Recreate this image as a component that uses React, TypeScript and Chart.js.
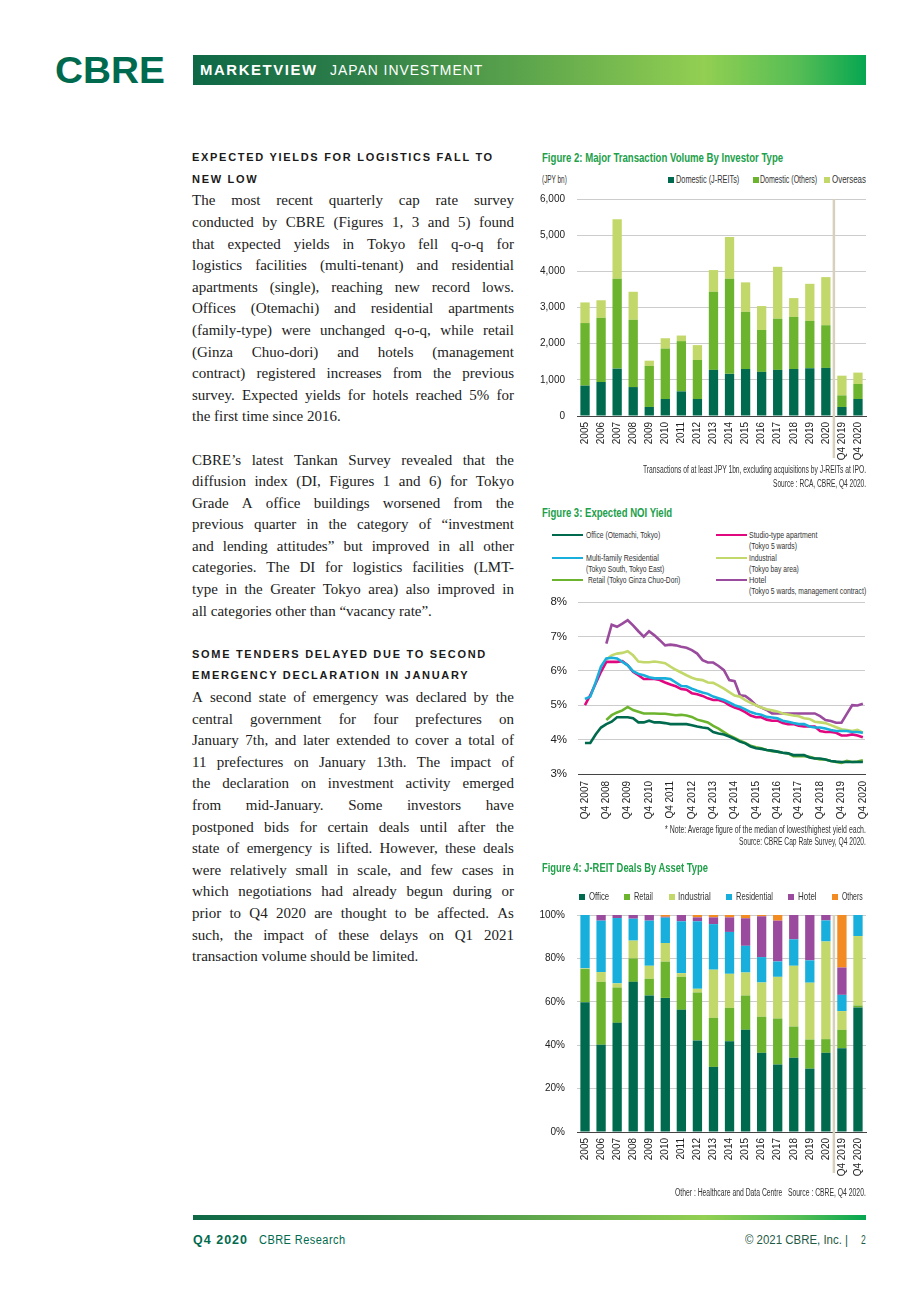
import React, { useEffect, useLayoutEffect, useRef, useState } from 'react';
import { Chart, registerables } from 'chart.js';

Chart.register(...registerables);

const SANS = "'Liberation Sans', Arial, sans-serif";
const SERIF = "'Liberation Serif', 'Times New Roman', serif";
Chart.defaults.font.family = SANS;
Chart.defaults.color = '#222';

// ---------- Figure 2 data: Major transaction volume by investor type (JPY bn)
const volCategories = ['2005', '2006', '2007', '2008', '2009', '2010', '2011', '2012', '2013', '2014', '2015', '2016', '2017', '2018', '2019', '2020', 'Q4 2019', 'Q4 2020'];
const volJreit = [840, 940, 1310, 800, 250, 470, 680, 470, 1275, 1165, 1300, 1220, 1275, 1300, 1320, 1330, 250, 470];
const volOthers = [1730, 1775, 2485, 1860, 1135, 1395, 1390, 1080, 2160, 2630, 1580, 1160, 1415, 1440, 1310, 1180, 320, 415];
const volOverseas = [570, 485, 1645, 775, 145, 285, 155, 410, 600, 1155, 815, 660, 1435, 520, 1025, 1330, 545, 315];

// ---------- Figure 3 data: Expected NOI yield (%), quarterly Q4 2007 - Q4 2020
const yieldQuarters = Array.from({ length: 53 }, (_, i) => `Q${((i + 3) % 4) + 1} ${2007 + Math.floor((i + 3) / 4)}`);
const yieldOffice = [3.90, 3.90, 4.15, 4.35, 4.45, 4.52, 4.65, 4.65, 4.65, 4.62, 4.50, 4.50, 4.55, 4.50, 4.50, 4.48, 4.45, 4.45, 4.45, 4.45, 4.42, 4.38, 4.35, 4.33, 4.22, 4.18, 4.15, 4.09, 4.02, 3.94, 3.89, 3.80, 3.75, 3.73, 3.70, 3.68, 3.65, 3.62, 3.60, 3.55, 3.55, 3.55, 3.48, 3.45, 3.45, 3.42, 3.38, 3.36, 3.35, 3.35, 3.35, 3.35, 3.35];
const yieldMultiFamily = [5.18, 5.25, 5.66, 6.12, 6.36, 6.38, 6.36, 6.26, 6.16, 5.99, 5.91, 5.87, 5.81, 5.78, 5.78, 5.78, 5.76, 5.66, 5.56, 5.55, 5.48, 5.42, 5.37, 5.33, 5.25, 5.20, 5.15, 5.08, 5.00, 4.95, 4.88, 4.80, 4.75, 4.72, 4.66, 4.64, 4.62, 4.55, 4.52, 4.48, 4.45, 4.45, 4.38, 4.35, 4.35, 4.32, 4.28, 4.25, 4.25, 4.25, 4.22, 4.22, 4.20];
const yieldRetail = [null, null, null, null, 4.57, 4.71, 4.79, 4.85, 4.95, 4.86, 4.81, 4.76, 4.76, 4.76, 4.75, 4.75, 4.73, 4.71, 4.72, 4.70, 4.66, 4.58, 4.54, 4.50, 4.40, 4.32, 4.22, 4.12, 4.05, 3.97, 3.90, 3.82, 3.78, 3.75, 3.70, 3.66, 3.65, 3.62, 3.60, 3.52, 3.52, 3.52, 3.50, 3.46, 3.42, 3.42, 3.38, 3.35, 3.32, 3.38, 3.35, 3.36, 3.40];
const yieldStudio = [5.00, 5.29, 5.63, 5.97, 6.26, 6.26, 6.26, 6.28, 6.16, 5.97, 5.87, 5.76, 5.76, 5.76, 5.73, 5.66, 5.60, 5.55, 5.47, 5.45, 5.35, 5.32, 5.27, 5.20, 5.15, 5.15, 5.10, 5.00, 4.93, 4.88, 4.80, 4.70, 4.65, 4.65, 4.58, 4.55, 4.55, 4.48, 4.45, 4.45, 4.40, 4.38, 4.38, 4.38, 4.25, 4.22, 4.22, 4.20, 4.12, 4.12, 4.15, 4.12, 4.07];
const yieldIndustrial = [null, null, null, null, 6.33, 6.45, 6.50, 6.52, 6.57, 6.45, 6.27, 6.25, 6.25, 6.27, 6.25, 6.22, 6.12, 6.03, 5.95, 5.87, 5.80, 5.75, 5.73, 5.66, 5.65, 5.57, 5.48, 5.38, 5.28, 5.25, 5.15, 5.07, 5.00, 4.93, 4.88, 4.85, 4.82, 4.76, 4.73, 4.70, 4.68, 4.62, 4.60, 4.52, 4.50, 4.48, 4.42, 4.36, 4.30, 4.28, 4.25, 4.28, 4.20];
const yieldHotel = [null, null, null, null, 6.79, 7.34, 7.28, 7.37, 7.47, 7.32, 7.15, 6.99, 7.15, 7.03, 6.89, 6.74, 6.76, 6.74, 6.70, 6.67, 6.60, 6.50, 6.31, 6.24, 6.24, 6.14, 6.02, 5.73, 5.70, 5.29, 5.27, 5.15, 5.00, 4.93, 4.86, 4.76, 4.76, 4.76, 4.76, 4.76, 4.76, 4.76, 4.76, 4.76, 4.68, 4.57, 4.54, 4.49, 4.49, 4.75, 5.00, 4.99, 5.04];

// ---------- Figure 4 data: J-REIT deals by asset type (%)
const dealOffice = [59.8, 40.2, 50.3, 69.2, 62.9, 61.8, 56.3, 42.2, 30.0, 41.8, 47.1, 36.5, 31.1, 34.2, 29.2, 36.5, 38.6, 57.4];
const dealRetail = [15.3, 29.0, 16.3, 10.8, 7.7, 16.7, 15.2, 22.1, 22.6, 15.4, 15.8, 16.6, 21.2, 14.4, 13.4, 6.3, 8.5, 0.9];
const dealIndustrial = [0.3, 4.5, 1.9, 8.2, 6.0, 8.6, 1.7, 1.7, 22.2, 15.7, 10.6, 15.8, 19.2, 28.0, 26.2, 45.0, 8.6, 32.0];
const dealResidential = [24.6, 23.7, 30.1, 10.1, 20.8, 11.7, 23.9, 31.1, 21.0, 19.3, 12.3, 11.7, 7.1, 12.2, 10.3, 9.7, 7.5, 9.7];
const dealHotel = [0, 2.6, 1.4, 1.7, 2.6, 0.4, 2.9, 1.8, 3.1, 6.7, 12.7, 18.8, 18.8, 11.2, 20.9, 2.5, 12.6, 0];
const dealOthers = [0, 0, 0, 0, 0, 0.8, 0, 1.1, 1.1, 1.1, 1.5, 0.6, 2.6, 0, 0, 0, 24.2, 0];

const C = {
  dark: '#006a4e',
  mid: '#6cb42e',
  light: '#c2d86a',
  cyan: '#18afdc',
  magenta: '#e1077f',
  purple: '#9a4b9d',
  orange: '#f28b22',
  grid: '#cccccc',
  sep: '#d7d0bd',
  title: '#21a04a',
  text: '#333333',
};

const separatorPlugin = {
  id: 'separator',
  afterDraw(chart: any, _args: any, opts: any) {
    const xs = chart.scales.x;
    const px = (xs.getPixelForValue(opts.index) + xs.getPixelForValue(opts.index + 1)) / 2;
    const ctx = chart.ctx;
    ctx.save();
    ctx.strokeStyle = opts.color;
    ctx.lineWidth = opts.width;
    ctx.beginPath();
    ctx.moveTo(px, chart.chartArea.top);
    ctx.lineTo(px, chart.chartArea.bottom + opts.extend);
    ctx.stroke();
    ctx.restore();
  },
};

function ChartBox({ left, top, width, height, make }: any) {
  const ref = useRef<HTMLCanvasElement>(null);
  useEffect(() => {
    const chart = new Chart(ref.current as HTMLCanvasElement, make());
    return () => chart.destroy();
  }, []);
  return <canvas ref={ref} width={width} height={height} style={{ position: 'absolute', left, top, width, height }} />;
}

function FitText({ text, x, y, w, align = 'left', size = 10, weight = 400, color = C.text, family = SANS, ls = 0 }: any) {
  const ref = useRef<HTMLSpanElement>(null);
  const [k, setK] = useState(1);
  useLayoutEffect(() => {
    if (ref.current) {
      const nw = ref.current.offsetWidth;
      if (nw > 0) setK(w / nw);
    }
  }, [text, w]);
  const lh = size * 1.2;
  return (
    <span
      ref={ref}
      style={{
        position: 'absolute',
        left: align === 'left' ? x : x - w,
        top: y - lh / 2,
        whiteSpace: 'pre',
        fontSize: size,
        fontWeight: weight,
        fontFamily: family,
        letterSpacing: ls,
        color,
        lineHeight: `${lh}px`,
        transform: `scaleX(${k})`,
        transformOrigin: 'left center',
      }}
    >
      {text}
    </span>
  );
}

function Square({ x, y, color, s = 6 }: any) {
  return <div style={{ position: 'absolute', left: x, top: y - s / 2, width: s, height: s, background: color }} />;
}

function Swatch({ x, y, color }: any) {
  return <div style={{ position: 'absolute', left: x, top: y - 1.3, width: 31, height: 2.6, background: color }} />;
}

const tickFont = { size: 10 };

const fitX = (h: number) => (s: any) => {
  s.height = h;
  s.paddingLeft = 0;
  s.paddingRight = 0;
};
const fitY = (w: number) => (s: any) => {
  s.width = w;
  s.paddingTop = 0;
  s.paddingBottom = 0;
};

function makeVolume() {
  return {
    type: 'bar',
    data: {
      labels: volCategories,
      datasets: [
        { label: 'Domestic (J-REITs)', data: volJreit, backgroundColor: C.dark },
        { label: 'Domestic (Others)', data: volOthers, backgroundColor: C.mid },
        { label: 'Overseas', data: volOverseas, backgroundColor: C.light },
      ],
    },
    options: {
      responsive: false,
      animation: false,
      devicePixelRatio: 1,
      layout: { padding: { left: 0, right: 4, top: 9, bottom: 0 } },
      datasets: { bar: { barPercentage: 0.58, categoryPercentage: 1 } },
      plugins: {
        legend: { display: false },
        tooltip: { enabled: false },
        separator: { index: 15, extend: 42, color: C.sep, width: 2.5 },
      },
      scales: {
        x: {
          stacked: true,
          grid: { display: false, drawTicks: false },
          border: { display: true, color: '#444', width: 1 },
          ticks: { autoSkip: false, minRotation: 90, maxRotation: 90, padding: 6, font: tickFont, color: '#222' },
          afterFit: fitX(49),
        },
        y: {
          stacked: true,
          min: 0,
          max: 6000,
          ticks: { stepSize: 1000, padding: 12, font: tickFont, color: '#222', callback: (v: any) => Number(v).toLocaleString('en-US') },
          grid: { color: C.grid, drawTicks: false },
          border: { display: false },
          afterFit: fitY(57),
        },
      },
    },
    plugins: [separatorPlugin],
  };
}

function toXY(arr: (number | null)[]) {
  return arr.map((v, i) => ({ x: i, y: v }));
}

function makeYield() {
  const line = (label: string, data: (number | null)[], color: string) => ({
    label,
    data: toXY(data),
    borderColor: color,
    backgroundColor: color,
    borderWidth: 2.6,
    pointRadius: 0,
    fill: false,
    tension: 0,
  });
  return {
    type: 'line',
    data: {
      datasets: [
        line('Office (Otemachi, Tokyo)', yieldOffice, C.dark),
        line('Multi-family Residential', yieldMultiFamily, C.cyan),
        line('Retail (Tokyo Ginza Chuo-Dori)', yieldRetail, C.mid),
        line('Studio-type apartment', yieldStudio, C.magenta),
        line('Industrial', yieldIndustrial, C.light),
        line('Hotel', yieldHotel, C.purple),
      ],
    },
    options: {
      responsive: false,
      animation: false,
      devicePixelRatio: 1,
      layout: { padding: { left: 0, right: 5, top: 7, bottom: 0 } },
      plugins: { legend: { display: false }, tooltip: { enabled: false } },
      scales: {
        x: {
          type: 'linear',
          min: -1.3,
          max: 52.4,
          grid: { display: false, drawTicks: false },
          border: { display: true, color: '#444', width: 1 },
          afterBuildTicks: (s: any) => {
            s.ticks = yieldQuarters.map((l, i) => ({ value: i, l })).filter((t) => t.l.startsWith('Q4')).map((t) => ({ value: t.value }));
          },
          ticks: {
            autoSkip: false,
            minRotation: 90,
            maxRotation: 90,
            padding: 7,
            font: tickFont,
            color: '#222',
            callback: (v: any) => yieldQuarters[v] ?? '',
          },
          afterFit: fitX(51),
        },
        y: {
          min: 3,
          max: 8,
          ticks: { stepSize: 1, padding: 11, font: { size: 11.5 }, color: '#222', callback: (v: any) => `${v}%` },
          grid: { color: C.grid, drawTicks: false },
          border: { display: false },
          afterFit: fitY(58),
        },
      },
    },
  };
}

function makeDeals() {
  return {
    type: 'bar',
    data: {
      labels: volCategories,
      datasets: [
        { label: 'Office', data: dealOffice, backgroundColor: C.dark },
        { label: 'Retail', data: dealRetail, backgroundColor: C.mid },
        { label: 'Industrial', data: dealIndustrial, backgroundColor: C.light },
        { label: 'Residential', data: dealResidential, backgroundColor: C.cyan },
        { label: 'Hotel', data: dealHotel, backgroundColor: C.purple },
        { label: 'Others', data: dealOthers, backgroundColor: C.orange },
      ],
    },
    options: {
      responsive: false,
      animation: false,
      devicePixelRatio: 1,
      layout: { padding: { left: 0, right: 4, top: 10, bottom: 0 } },
      datasets: { bar: { barPercentage: 0.58, categoryPercentage: 1 } },
      plugins: {
        legend: { display: false },
        tooltip: { enabled: false },
        separator: { index: 15, extend: 41, color: C.sep, width: 2.5 },
      },
      scales: {
        x: {
          stacked: true,
          grid: { display: false, drawTicks: false },
          border: { display: true, color: '#444', width: 1 },
          ticks: { autoSkip: false, minRotation: 90, maxRotation: 90, padding: 6, font: tickFont, color: '#222' },
          afterFit: fitX(48),
        },
        y: {
          stacked: true,
          min: 0,
          max: 100,
          ticks: { stepSize: 20, padding: 12, font: tickFont, color: '#222', callback: (v: any) => `${v}%` },
          grid: { color: C.grid, drawTicks: false },
          border: { display: false },
          afterFit: fitY(57),
        },
      },
    },
    plugins: [separatorPlugin],
  };
}

// ---------- Left text column
const heading1 = ['EXPECTED YIELDS FOR LOGISTICS FALL TO', 'NEW LOW'];
const para1 = [
  'The most recent quarterly cap rate survey',
  'conducted by CBRE (Figures 1, 3 and 5) found',
  'that expected yields in Tokyo fell q-o-q for',
  'logistics facilities (multi-tenant) and residential',
  'apartments (single), reaching new record lows.',
  'Offices (Otemachi) and residential apartments',
  '(family-type) were unchanged q-o-q, while retail',
  '(Ginza Chuo-dori) and hotels (management',
  'contract) registered increases from the previous',
  'survey. Expected yields for hotels reached 5% for',
  'the first time since 2016.',
];
const para2 = [
  'CBRE’s latest Tankan Survey revealed that the',
  'diffusion index (DI, Figures 1 and 6) for Tokyo',
  'Grade A office buildings worsened from the',
  'previous quarter in the category of “investment',
  'and lending attitudes” but improved in all other',
  'categories. The DI for logistics facilities (LMT-',
  'type in the Greater Tokyo area) also improved in',
  'all categories other than “vacancy rate”.',
];
const heading2 = ['SOME TENDERS DELAYED DUE TO SECOND', 'EMERGENCY DECLARATION IN JANUARY'];
const para3 = [
  'A second state of emergency was declared by the',
  'central government for four prefectures on',
  'January 7th, and later extended to cover a total of',
  '11 prefectures on January 13th. The impact of',
  'the declaration on investment activity emerged',
  'from mid-January. Some investors have',
  'postponed bids for certain deals until after the',
  'state of emergency is lifted. However, these deals',
  'were relatively small in scale, and few cases in',
  'which negotiations had already begun during or',
  'prior to Q4 2020 are thought to be affected.  As',
  'such, the impact of these delays on Q1 2021',
  'transaction volume should be limited.',
];

function TextColumn() {
  const rows: { t: string; k: string }[] = [];
  const addPara = (lines: string[]) => lines.forEach((t, i) => rows.push({ t, k: i === lines.length - 1 ? 'l' : 'j' }));
  heading1.forEach((t) => rows.push({ t, k: 'h' }));
  addPara(para1);
  rows.push({ t: '', k: 'b' });
  addPara(para2);
  rows.push({ t: '', k: 'b' });
  heading2.forEach((t) => rows.push({ t, k: 'h' }));
  addPara(para3);
  const LH = 21.6;
  return (
    <div style={{ position: 'absolute', left: 192, top: 147.2, width: 322 }}>
      {rows.map((r, i) => {
        if (r.k === 'h') {
          return (
            <div key={i} style={{ height: LH, lineHeight: `${LH}px`, whiteSpace: 'nowrap', fontFamily: SANS, fontWeight: 700, fontSize: 11, letterSpacing: '1.7px', color: '#1a1a1a' }}>
              {r.t}
            </div>
          );
        }
        if (r.k === 'j') {
          return (
            <div key={i} style={{ height: LH, lineHeight: `${LH}px`, display: 'flex', justifyContent: 'space-between', whiteSpace: 'nowrap', fontFamily: SERIF, fontSize: 15, color: '#222' }}>
              {r.t.split(/\s+/).map((w, j) => <span key={j}>{w}</span>)}
            </div>
          );
        }
        return (
          <div key={i} style={{ height: LH, lineHeight: `${LH}px`, whiteSpace: 'nowrap', fontFamily: SERIF, fontSize: 15, color: '#222' }}>
            {r.t}
          </div>
        );
      })}
    </div>
  );
}

const GRADIENT = 'linear-gradient(90deg, #0e6846 0%, #2f7f49 25%, #5ea64c 50%, #92cf52 76%, #55bd55 90%, #06a651 100%)';

export default function App() {
  return (
    <div style={{ position: 'absolute', left: 0, top: 0, width: 920, height: 1302, background: '#fff', overflow: 'hidden' }}>
      {/* Header */}
      <FitText text="CBRE" x={55} y={71} w={110} size={36} weight={700} color={C.dark} />
      <div style={{ position: 'absolute', left: 193, top: 55, width: 673, height: 30, background: GRADIENT }} />
      <FitText text="MARKETVIEW" x={200} y={70.5} w={118} size={14} weight={700} color="#fff" ls={1.5} />
      <FitText text="JAPAN INVESTMENT" x={330} y={70.5} w={153} size={14} weight={400} color="#fff" ls={1} />

      <TextColumn />

      {/* Figure 2 */}
      <FitText text="Figure 2: Major Transaction Volume By Investor Type" x={542} y={158} w={241} size={12.5} weight={700} color={C.title} />
      <FitText text="(JPY bn)" x={542} y={179.5} w={25} size={10} />
      <Square x={668} y={179.5} color={C.dark} />
      <FitText text="Domestic (J-REITs)" x={676} y={179.5} w={63} size={10.5} />
      <Square x={753} y={179.5} color={C.mid} />
      <FitText text="Domestic (Others)" x={760} y={179.5} w={57} size={10.5} />
      <Square x={824} y={179.5} color={C.light} />
      <FitText text="Overseas" x={832} y={179.5} w={34} size={10.5} />
      <ChartBox left={520} top={190} width={350} height={275} make={makeVolume} />
      <FitText text="Transactions of at least JPY 1bn, excluding acquisitions by J-REITs at IPO." x={866} y={469.5} w={223} align="right" size={10} />
      <FitText text="Source : RCA, CBRE, Q4 2020." x={866} y={483.5} w={93} align="right" size={10} />

      {/* Figure 3 */}
      <FitText text="Figure 3: Expected NOI Yield" x={542} y={513} w={130} size={12.5} weight={700} color={C.title} />
      <Swatch x={552} y={535} color={C.dark} />
      <FitText text="Office (Otemachi, Tokyo)" x={586} y={534.5} w={74} size={9.5} />
      <Swatch x={552} y={558} color={C.cyan} />
      <FitText text="Multi-family Residential" x={586} y={557.5} w={73} size={9.5} />
      <FitText text="(Tokyo South, Tokyo East)" x={586} y={568.5} w={78} size={9.5} />
      <Swatch x={552} y={580} color={C.mid} />
      <FitText text="Retail (Tokyo Ginza Chuo-Dori)" x={588} y={580} w={92} size={9.5} />
      <Swatch x={716} y={535} color={C.magenta} />
      <FitText text="Studio-type apartment" x={749} y={534.5} w={68} size={9.5} />
      <FitText text="(Tokyo 5 wards)" x={749} y={545.5} w={48} size={9.5} />
      <Swatch x={716} y={558} color={C.light} />
      <FitText text="Industrial" x={749} y={557.5} w={28} size={9.5} />
      <FitText text="(Tokyo bay area)" x={749} y={568.5} w={50} size={9.5} />
      <Swatch x={716} y={580} color={C.purple} />
      <FitText text="Hotel" x={749} y={580} w={17} size={9.5} />
      <FitText text="(Tokyo 5 wards, management contract)" x={749} y={591} w={117} size={9.5} />
      <ChartBox left={520} top={595} width={350} height={230} make={makeYield} />
      <FitText text="* Note: Average figure of the median of lowest/highest yield each." x={866} y={829.5} w={201} align="right" size={10} />
      <FitText text="Source: CBRE Cap Rate Survey, Q4 2020." x={866} y={842} w={127} align="right" size={10} />

      {/* Figure 4 */}
      <FitText text="Figure 4: J-REIT Deals By Asset Type" x={542} y={868} w={166} size={12.5} weight={700} color={C.title} />
      <Square x={579} y={896.5} color={C.dark} />
      <FitText text="Office" x={589} y={896.5} w={20} size={10.5} />
      <Square x={624} y={896.5} color={C.mid} />
      <FitText text="Retail" x={634} y={896.5} w={19} size={10.5} />
      <Square x={669} y={896.5} color={C.light} />
      <FitText text="Industrial" x={678} y={896.5} w={33} size={10.5} />
      <Square x={726} y={896.5} color={C.cyan} />
      <FitText text="Residential" x={736} y={896.5} w={37} size={10.5} />
      <Square x={788} y={896.5} color={C.purple} />
      <FitText text="Hotel" x={798} y={896.5} w={19} size={10.5} />
      <Square x={832} y={896.5} color={C.orange} />
      <FitText text="Others" x={842} y={896.5} w={21} size={10.5} />
      <ChartBox left={520} top={905} width={350} height={275} make={makeDeals} />
      <FitText text="Other : Healthcare and Data Centre   Source : CBRE, Q4 2020." x={866} y={1192.5} w={191} align="right" size={10} />

      {/* Footer */}
      <div style={{ position: 'absolute', left: 193, top: 1215, width: 673, height: 4.5, background: GRADIENT }} />
      <FitText text="Q4 2020" x={193} y={1240} w={55} size={12} weight={700} color={C.dark} ls={1} />
      <FitText text="CBRE Research" x={259} y={1240} w={87} size={12} color={C.dark} ls={0.5} />
      <FitText text="© 2021 CBRE, Inc. |" x={745} y={1240} w={103} size={12} color="#1f5a45" />
      <FitText text="2" x={861} y={1240} w={5} size={12} color="#1f5a45" />
    </div>
  );
}
